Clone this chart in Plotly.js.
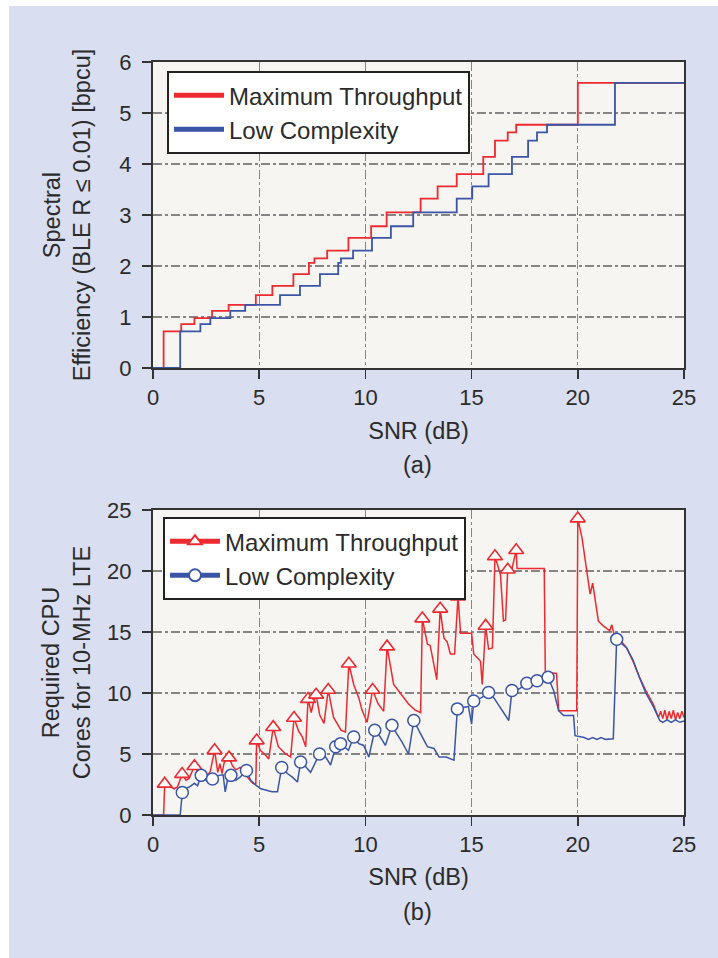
<!DOCTYPE html>
<html><head><meta charset="utf-8">
<script src="https://cdn.plot.ly/plotly-3.0.1.min.js"></script>
<style>html,body{margin:0;padding:0;background:#fff;}#chart{position:absolute;left:9px;top:6px;width:709px;height:952px;}</style>
</head><body><div id="chart"></div>
<script>
// (a) Spectral efficiency step curves
const seSnrMax = [0,0.5,1.33,1.95,2.78,3.56,4.84,5.62,6.61,7.34,7.6,8.2,9.2,10.27,11.0,12.6,13.4,14.3,15.55,16.1,16.7,17.1,20.0,25];
const seMax    = [0,0.72,0.86,0.98,1.12,1.24,1.43,1.61,1.84,2.06,2.15,2.30,2.55,2.78,3.05,3.32,3.56,3.80,4.14,4.46,4.62,4.77,5.59,5.59];
const seSnrLow = [0,1.28,2.23,2.7,3.64,4.34,5.98,6.92,7.86,8.72,8.85,9.42,10.31,11.2,12.25,14.3,15.03,15.8,16.9,17.66,18.08,18.55,21.75,25];
const seLow    = [0,0.72,0.86,0.98,1.12,1.24,1.43,1.61,1.84,2.06,2.15,2.30,2.55,2.78,3.05,3.32,3.56,3.80,4.14,4.46,4.62,4.77,5.59,5.59];

// (b) Required CPU cores
const cpuSnrMax = [0,0.5,0.55,0.8,1.0,1.15,1.37,1.55,1.7,1.95,
  2.2,2.5,2.7,2.9,3.05,3.15,3.25,3.35,3.58,3.75,
  3.9,4.1,4.3,4.5,4.7,4.84,4.88,5.05,5.25,5.45,
  5.66,5.9,6.25,6.48,6.64,6.85,7.03,7.19,7.3,7.45,
  7.55,7.68,7.85,8.05,8.25,8.5,8.7,8.85,9.06,9.22,
  9.45,9.69,9.84,10.08,10.34,10.6,10.86,11.02,11.33,11.7,
  12.03,12.34,12.6,12.68,12.92,13.05,13.23,13.36,13.52,13.7,
  13.85,14.0,14.2,14.36,14.48,15.0,15.1,15.42,15.5,15.66,
  15.8,15.98,16.1,16.36,16.5,16.6,16.7,16.9,17.1,17.14,
  18.42,18.47,19.0,19.1,19.95,20.0,20.2,20.4,20.58,20.7,
  20.8,20.97,21.2,21.5,21.6,21.75,21.98,22.3,22.6,22.9,
  23.2,23.55,23.8,23.9,24.0,24.1,24.2,24.3,24.4,24.5,
  24.6,24.7,24.8,24.9,25];
const cpuMax = [0,0,2.55,2.3,2.15,2.3,3.35,2.85,3.0,4.0,
  3.3,3.05,3.6,5.3,3.5,4.2,3.4,4.3,4.7,4.0,
  3.7,3.9,3.4,3.0,2.6,2.55,6.1,5.3,5.0,4.6,
  7.2,5.6,5.0,4.75,7.95,6.9,6.4,5.6,9.5,8.4,
  9.2,9.85,8.2,7.5,10.25,8.0,7.4,6.95,6.8,12.4,
  10.7,9.6,8.6,7.6,10.25,9.1,8.5,13.8,10.7,9.9,
  9.1,8.6,8.4,16.1,14.0,13.9,12.1,11.1,16.9,14.5,
  14.2,13.2,13.2,17.9,14.9,14.9,13.2,12.6,10.7,15.5,
  13.6,13.7,21.2,19.7,15.9,16.0,20.1,20.2,21.7,20.2,
  20.2,11.7,11.6,8.55,8.55,24.3,22.7,20.2,18.1,19.0,
  17.8,15.9,15.5,15.1,15.6,14.5,14.4,13.7,12.6,11.3,
  10.2,9.1,8.0,8.5,7.9,8.6,7.8,8.5,7.9,8.6,
  7.8,8.4,7.9,8.5,8.0];
const cpuMaxMarkedSnr = [0.55,1.37,1.95,2.9,3.58,4.88,5.66,6.64,7.3,7.68,8.25,9.22,10.34,11.02,12.68,13.52,14.36,15.66,16.1,16.7,17.1,20.0];

const cpuSnrLow = [0,1.28,1.38,1.55,1.72,1.95,2.1,2.27,2.5,2.8,
  3.1,3.3,3.4,3.5,3.67,3.9,4.1,4.4,4.6,4.84,
  5.08,5.3,5.6,5.86,6.06,6.33,6.56,6.8,6.95,7.19,
  7.42,7.84,8.13,8.36,8.6,8.83,9.06,9.2,9.45,9.69,
  9.92,10.16,10.44,10.7,10.94,11.25,11.48,11.72,12.03,12.28,
  12.6,12.92,13.23,13.47,13.8,14.17,14.33,14.6,14.85,15.0,
  15.1,15.45,15.8,16.05,16.36,16.75,16.9,17.25,17.6,18.08,
  18.6,18.86,19.1,19.33,19.8,19.87,20.3,20.5,20.7,20.9,
  21.1,21.3,21.67,21.83,22.3,22.6,22.9,23.2,23.55,23.86,
  24.0,24.2,24.4,24.6,24.8,25];
const cpuLow = [0,0,1.85,2.2,2.3,2.6,2.4,3.25,2.85,2.95,
  3.25,3.3,1.9,2.8,3.25,2.85,3.1,3.65,2.85,2.45,
  2.15,2.05,1.9,1.9,3.9,3.4,3.1,2.7,4.35,3.95,
  3.5,5.0,4.75,4.1,5.6,5.85,5.55,5.3,6.4,5.85,
  5.7,4.75,6.95,6.4,5.7,7.35,6.65,6.0,5.0,7.75,
  6.65,5.6,5.45,4.75,4.75,4.5,8.7,8.8,8.9,7.45,
  9.35,9.6,10.05,9.6,8.8,7.75,10.2,10.35,10.8,11.0,
  11.3,10.2,8.55,8.15,8.15,6.5,6.35,6.2,6.35,6.2,
  6.35,6.2,6.25,14.4,13.7,12.7,11.3,10.0,8.9,7.75,
  7.6,7.8,7.6,7.8,7.6,7.7];
const cpuLowMarkedSnr = [1.38,2.27,2.8,3.67,4.4,6.06,6.95,7.84,8.6,8.83,9.45,10.44,11.25,12.28,14.33,15.1,15.8,16.9,17.6,18.08,18.6,21.83];

const seriesNames = ['Maximum Throughput','Low Complexity'];
const xTicks = [0,5,10,15,20,25];

const RED = '#ec2a30', BLUE = '#3b55a6';
const FONT = 'Liberation Sans, Arial, Helvetica, sans-serif';
const TXT = '#2b2b2b';

const sizesFor = (xs, marked, s) => xs.map(v => marked.includes(v) ? s : 0);

const traces = [
  {x: seSnrMax, y: seMax, name: seriesNames[0], mode: 'lines', line: {color: RED, width: 1.8, shape: 'hv'}, xaxis: 'x', yaxis: 'y', legend: 'legend'},
  {x: seSnrLow, y: seLow, name: seriesNames[1], mode: 'lines', line: {color: BLUE, width: 1.8, shape: 'hv'}, xaxis: 'x', yaxis: 'y', legend: 'legend'},
  {x: cpuSnrMax, y: cpuMax, name: seriesNames[0], mode: 'lines+markers', line: {color: RED, width: 1.5},
   marker: {symbol: 'triangle-up', size: sizesFor(cpuSnrMax, cpuMaxMarkedSnr, 13), color: '#ffffff', opacity: 1, line: {color: RED, width: 1.6}},
   xaxis: 'x2', yaxis: 'y2', legend: 'legend2'},
  {x: cpuSnrLow, y: cpuLow, name: seriesNames[1], mode: 'lines+markers', line: {color: BLUE, width: 1.5},
   marker: {symbol: 'circle', size: sizesFor(cpuSnrLow, cpuLowMarkedSnr, 12), color: '#ffffff', opacity: 1, line: {color: BLUE, width: 1.5}},
   xaxis: 'x2', yaxis: 'y2', legend: 'legend2'}
];

const axisCommon = {
  showline: true, linecolor: '#333', linewidth: 2, mirror: true,
  ticks: 'outside', ticklen: 9, tickwidth: 1.5, tickcolor: '#333',
  showgrid: true, gridcolor: '#858585', gridwidth: 1.2, griddash: 'dashdot',
  zeroline: false, tickfont: {family: FONT, size: 22, color: TXT}
};
const titleFont = {family: FONT, size: 23.5, color: TXT};

const legendCommon = {
  bgcolor: '#ffffff', bordercolor: '#222', borderwidth: 2,
  font: {family: FONT, size: 24, color: TXT}, xanchor: 'left', yanchor: 'top',
  itemwidth: 50, tracegroupgap: 0, itemsizing: 'constant'
};

const layout = {
  width: 709, height: 952,
  margin: {l: 144, r: 34, t: 56, b: 143},
  paper_bgcolor: '#d9def0', plot_bgcolor: '#f6f5f1',
  showlegend: true,
  font: {family: FONT, color: TXT},
  xaxis: Object.assign({}, axisCommon, {domain: [0, 1], anchor: 'y', range: [0, 25], tickvals: xTicks,
    title: {text: 'SNR (dB)', font: titleFont, standoff: 13}}),
  yaxis: Object.assign({}, axisCommon, {domain: [0.5936, 1], anchor: 'x', range: [0, 6], dtick: 1, ticklabelstandoff: 6,
    title: {text: 'Spectral<br>Efficiency (BLE R ≤ 0.01) [bpcu]', font: titleFont, standoff: 22}}),
  xaxis2: Object.assign({}, axisCommon, {domain: [0, 1], anchor: 'y2', range: [0, 25], tickvals: xTicks,
    title: {text: 'SNR (dB)', font: titleFont, standoff: 12}}),
  yaxis2: Object.assign({}, axisCommon, {domain: [0, 0.405], anchor: 'x2', range: [0, 25], dtick: 5, ticklabelstandoff: 6,
    title: {text: 'Required CPU<br>Cores for 10-MHz LTE', font: titleFont, standoff: 10}}),
  legend: Object.assign({}, legendCommon, {x: 0.0264, y: 0.988}),
  legend2: Object.assign({}, legendCommon, {x: 0.0188, y: 0.3957}),
  annotations: [
    {text: '(a)', xref: 'paper', yref: 'paper', x: 0.499, y: 0.4648, xanchor: 'center', yanchor: 'middle', showarrow: false, font: titleFont},
    {text: '(b)', xref: 'paper', yref: 'paper', x: 0.499, y: -0.1288, xanchor: 'center', yanchor: 'middle', showarrow: false, font: titleFont}
  ]
};

Plotly.newPlot('chart', traces, layout, {staticPlot: true, displayModeBar: false});
</script></body></html>
